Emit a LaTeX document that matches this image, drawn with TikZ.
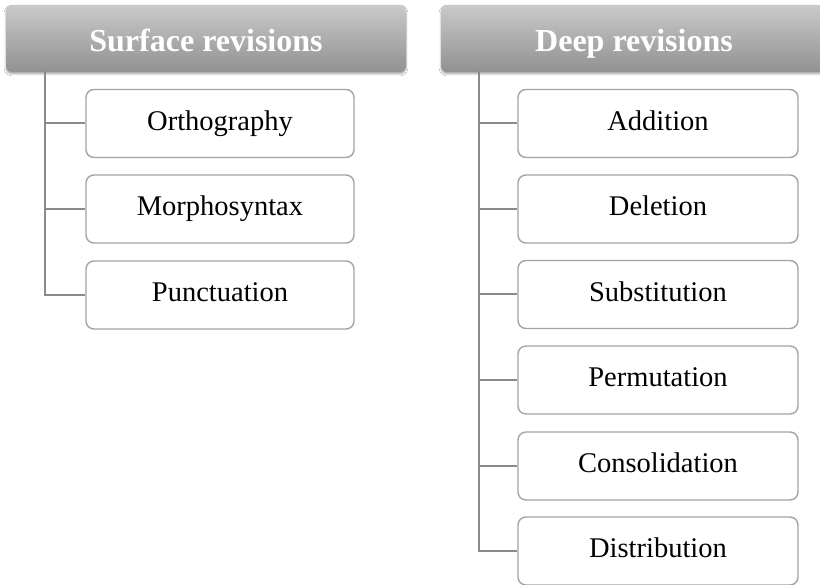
\documentclass[tikz,border=0pt]{standalone}
\usepackage{fontspec}
\setmainfont{Liberation Serif}
\usetikzlibrary{shadows.blur}
\definecolor{linegray}{HTML}{8A8A8A}
\definecolor{boxgray}{HTML}{A4A4A4}
\begin{document}
\begin{tikzpicture}[x=1pt,y=-1pt,
  header/.style={rectangle, rounded corners=6pt, draw=none,
    top color=black!21, bottom color=black!43,
    text=white, font=\fontsize{32}{36}\selectfont\bfseries,
    minimum height=67pt, inner sep=0pt, text height=26.5pt, text depth=0pt,
    blur shadow={shadow xshift=0pt, shadow yshift=-2pt, shadow blur steps=6, shadow opacity=35}},
  item/.style={rectangle, rounded corners=8pt, draw=boxgray, line width=1.4pt,
    fill=white, font=\fontsize{28.5}{32}\selectfont,
    minimum height=68pt, inner sep=0pt, text height=20pt, text depth=6.3pt},
  link/.style={draw=linegray, line width=2pt}]
\clip (0,0) rectangle (820,585);
\fill[white] (0,0) rectangle (820,585);

% Surface revisions branch
\node[header, minimum width=400pt] (hs) at (206,38.5) {Surface revisions};
\node[item, minimum width=268pt] (s1) at (220,123.5) {Orthography};
\node[item, minimum width=268pt] (s2) at (220,209) {Morphosyntax};
\node[item, minimum width=268pt] (s3) at (220,295) {Punctuation};
\coordinate (st) at (45,72);
\draw[link] (st) |- (s3.west);
\draw[link] (st |- s1.west) -- (s1.west);
\draw[link] (st |- s2.west) -- (s2.west);

% Deep revisions branch
\node[header, minimum width=386pt] (hd) at (634,38.5) {Deep revisions};
\node[item, minimum width=280pt] (d1) at (658,123.5) {Addition};
\node[item, minimum width=280pt] (d2) at (658,209) {Deletion};
\node[item, minimum width=280pt] (d3) at (658,294.5) {Substitution};
\node[item, minimum width=280pt] (d4) at (658,380) {Permutation};
\node[item, minimum width=280pt] (d5) at (658,466) {Consolidation};
\node[item, minimum width=280pt] (d6) at (658,551) {Distribution};
\coordinate (dt) at (479,72);
\draw[link] (dt) |- (d6.west);
\draw[link] (dt |- d1.west) -- (d1.west);
\draw[link] (dt |- d2.west) -- (d2.west);
\draw[link] (dt |- d3.west) -- (d3.west);
\draw[link] (dt |- d4.west) -- (d4.west);
\draw[link] (dt |- d5.west) -- (d5.west);
\end{tikzpicture}
\end{document}
